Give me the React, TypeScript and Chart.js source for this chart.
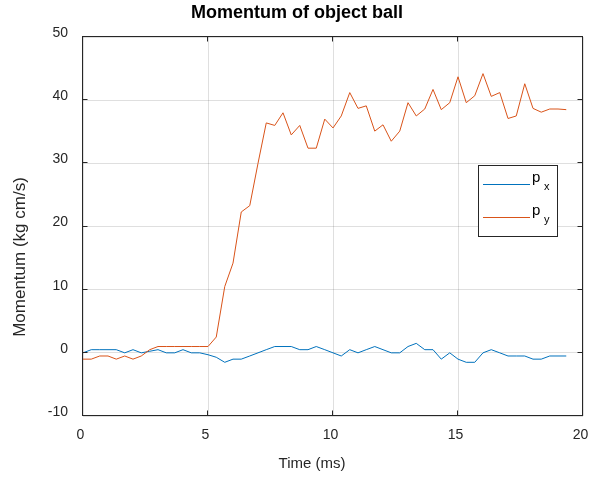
import React, { useEffect, useRef } from 'react';
import { Chart, registerables } from 'chart.js';

Chart.register(...registerables);

// ---- data ----
const timeMs = [
  0, 0.33, 0.67, 1, 1.33, 1.67, 2, 2.33, 2.67, 3, 3.33, 3.67,
  4, 4.33, 4.67, 5, 5.33, 5.67, 6, 6.33, 6.67, 7, 7.33, 7.67,
  8, 8.33, 8.67, 9, 9.33, 9.67, 10, 10.33, 10.67, 11, 11.33, 11.67,
  12, 12.33, 12.67, 13, 13.33, 13.67, 14, 14.33, 14.67, 15, 15.33, 15.67,
  16, 16.33, 16.67, 17, 17.33, 17.67, 18, 18.33, 18.67, 19, 19.33,
];

const momentumX = [
  0, 0.5, 0.5, 0.5, 0.5, 0,
  0.5, 0, 0.25, 0.5, 0, 0,
  0.5, 0, 0, -0.3, -0.7, -1.5,
  -1, -1, -0.5, 0, 0.5, 1,
  1, 1, 0.5, 0.5, 1, 0.5,
  0, -0.5, 0.5, 0, 0.5, 1,
  0.5, 0, 0, 1, 1.5, 0.5,
  0.5, -1, 0, -1, -1.5, -1.5,
  0, 0.5, 0, -0.5, -0.5, -0.5,
  -1, -1, -0.5, -0.5, -0.5,
];

const momentumY = [
  -1, -1, -0.5, -0.5, -1, -0.5,
  -1, -0.5, 0.5, 1, 1, 1,
  1, 1, 1, 1, 2.5, 10.5,
  14.2, 22.3, 23.3, 30, 36.4, 36,
  38, 34.5, 36, 32.4, 32.4, 37,
  35.6, 37.5, 41.2, 38.7, 39.1, 35.1,
  36.1, 33.5, 35.1, 39.6, 37.5, 38.6,
  41.7, 38.5, 39.6, 43.7, 39.6, 40.7,
  44.2, 40.6, 41.2, 37.1, 37.5, 42.6,
  38.7, 38.1, 38.6, 38.6, 38.5,
];

const xTicks = [0, 5, 10, 15, 20];
const yTicks = [-10, 0, 10, 20, 30, 40, 50];
const legendMain = ['p', 'p'];
const legendSub = ['x', 'y'];
const seriesColors = ['#0072BD', '#D95319'];
const titleText = 'Momentum of object ball';
const xLabel = 'Time (ms)';
const yLabel = 'Momentum (kg cm/s)';

// ---- styling ----
const FONT = '"Liberation Sans", Arial, Helvetica, sans-serif';
const AXIS = '#262626';
const GRID = 'rgba(38,38,38,0.15)';

const decorPlugin = {
  id: 'decor',
  afterDatasetsDraw(chart: any) {
    const { ctx, chartArea: a, scales } = chart;
    const xs = scales.x;
    const ys = scales.y;
    const L = Math.round(a.left) - 0.5;
    const R = Math.round(a.right) - 0.5;
    const T = Math.round(a.top) - 0.5;
    const B = Math.round(a.bottom) - 0.5;
    ctx.save();
    ctx.strokeStyle = AXIS;
    ctx.lineWidth = 1;
    ctx.strokeRect(L, T, R - L, B - T);
    const tl = 5;
    ctx.beginPath();
    xTicks.forEach((v) => {
      const px = Math.round(xs.getPixelForValue(v)) - 0.5;
      ctx.moveTo(px, B);
      ctx.lineTo(px, B - tl);
      ctx.moveTo(px, T);
      ctx.lineTo(px, T + tl);
    });
    yTicks.forEach((v) => {
      const py = Math.round(ys.getPixelForValue(v)) - 0.5;
      ctx.moveTo(L, py);
      ctx.lineTo(L + tl, py);
      ctx.moveTo(R, py);
      ctx.lineTo(R - tl, py);
    });
    ctx.stroke();

    // legend
    const bx = 478.5, by = 165.5, bw = 79, bh = 71;
    ctx.fillStyle = '#ffffff';
    ctx.fillRect(bx, by, bw, bh);
    ctx.strokeStyle = AXIS;
    ctx.strokeRect(bx, by, bw, bh);
    const rowY = [184.5, 217.5];
    legendMain.forEach((m, i) => {
      const ly = rowY[i];
      ctx.strokeStyle = seriesColors[i];
      ctx.lineWidth = 1;
      ctx.beginPath();
      ctx.moveTo(483, ly);
      ctx.lineTo(530, ly);
      ctx.stroke();
      ctx.fillStyle = '#000000';
      ctx.textAlign = 'left';
      ctx.textBaseline = 'alphabetic';
      ctx.font = `15px ${FONT}`;
      ctx.fillText(m, 532, ly - 2.5);
      ctx.font = `11px ${FONT}`;
      ctx.fillText(legendSub[i], 544, ly + 5.5);
    });

    // titles
    ctx.fillStyle = '#000000';
    ctx.textAlign = 'center';
    ctx.textBaseline = 'middle';
    ctx.font = `bold 18px ${FONT}`;
    ctx.fillText(titleText, 297, 13);
    ctx.fillStyle = AXIS;
    ctx.font = `15px ${FONT}`;
    ctx.fillText(xLabel, 312, 464);
    ctx.save();
    ctx.translate(20, 257);
    ctx.rotate(-Math.PI / 2);
    ctx.font = `17px ${FONT}`;
    ctx.fillText(yLabel, 0, 0);
    ctx.restore();
    ctx.restore();
  },
};

export default function App() {
  const canvasRef = useRef<HTMLCanvasElement | null>(null);

  useEffect(() => {
    if (!canvasRef.current) return;
    const chart = new Chart(canvasRef.current, {
      type: 'line',
      data: {
        datasets: [
          {
            label: 'px',
            data: timeMs.map((t, i) => ({ x: t, y: momentumX[i] })),
            borderColor: seriesColors[0],
            backgroundColor: seriesColors[0],
            borderWidth: 1,
            pointRadius: 0,
            tension: 0,
            fill: false,
            order: 1,
          },
          {
            label: 'py',
            data: timeMs.map((t, i) => ({ x: t, y: momentumY[i] })),
            borderColor: seriesColors[1],
            backgroundColor: seriesColors[1],
            borderWidth: 1,
            pointRadius: 0,
            tension: 0,
            fill: false,
            order: 0,
          },
        ],
      },
      options: {
        animation: false,
        responsive: true,
        maintainAspectRatio: false,
        devicePixelRatio: 1,
        layout: { padding: { top: 37, right: 6, bottom: 0, left: 0 } },
        plugins: {
          legend: { display: false },
          tooltip: { enabled: false },
          title: { display: false },
        },
        scales: {
          x: {
            type: 'linear',
            min: 0,
            max: 20,
            afterBuildTicks: (s: any) => {
              s.ticks = xTicks.map((v) => ({ value: v }));
            },
            grid: { color: GRID, drawTicks: false, lineWidth: 1 },
            border: { display: false },
            ticks: {
              color: AXIS,
              font: { family: FONT, size: 14 },
              padding: 11,
              labelOffset: -2.5,
              maxRotation: 0,
              autoSkip: false,
            },
            afterFit: (s: any) => {
              s.height = 61;
              s.paddingLeft = 0;
              s.paddingRight = 0;
            },
          },
          y: {
            type: 'linear',
            min: -10,
            max: 50,
            afterBuildTicks: (s: any) => {
              s.ticks = yTicks.map((v) => ({ value: v }));
            },
            grid: { color: GRID, drawTicks: false, lineWidth: 1 },
            border: { display: false },
            ticks: {
              color: AXIS,
              font: { family: FONT, size: 14 },
              padding: 15,
              labelOffset: -4,
              autoSkip: false,
            },
            afterFit: (s: any) => {
              s.width = 83;
              s.paddingTop = 0;
              s.paddingBottom = 0;
            },
          },
        },
      },
      plugins: [decorPlugin],
    });
    return () => chart.destroy();
  }, []);

  return (
    <div style={{ position: 'fixed', left: 0, top: 0, width: 589, height: 477, background: '#ffffff' }}>
      <canvas ref={canvasRef} />
    </div>
  );
}
